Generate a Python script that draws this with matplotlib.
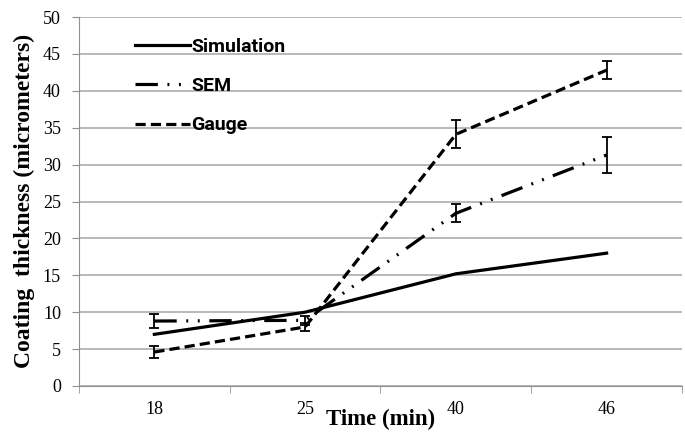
import matplotlib.pyplot as plt
from matplotlib.lines import Line2D

# data
times = ['18', '25', '40', '46']
simulation = [7.0, 10.0, 15.2, 18.0]
sem = [8.8, 8.9, 23.4, 31.3]
sem_err = [0.9, 0.6, 1.2, 2.4]
gauge = [4.6, 8.0, 34.1, 42.8]
gauge_err = [0.8, 0.5, 1.9, 1.2]

plt.rcParams['font.family'] = ['Liberation Serif', 'DejaVu Serif']
legend_font = ['Roboto', 'DejaVu Sans']

sem_style = (0, (7, 3, 0.6, 3, 0.6, 3))
gauge_style = (0, (3.2, 1.6))

fig = plt.figure(figsize=(6.85, 4.32), dpi=100)
ax = fig.add_axes([0.1153, 0.1065, 0.8803, 0.8541])

x = list(range(len(times)))

ax.plot(x, simulation, color='black', lw=2.3)
ax.errorbar(x, sem, yerr=sem_err, color='black', lw=2.3,
            linestyle=sem_style, ecolor='black',
            elinewidth=1.3, capsize=3.5, capthick=1.3)
ax.errorbar(x, gauge, yerr=gauge_err, color='black', lw=2.3,
            linestyle=gauge_style, ecolor='black',
            elinewidth=1.3, capsize=3.5, capthick=1.3)

ax.set_xlim(-0.5, 3.5)
ax.set_ylim(0, 50)
ax.set_yticks(range(0, 51, 5))
ax.set_xticks(x)
ax.set_xticklabels(times)
ax.set_xticks([-0.5, 0.5, 1.5, 2.5, 3.5], minor=True)
ax.tick_params(axis='x', which='major', length=0, pad=11, labelsize=13)
ax.tick_params(axis='x', which='minor', length=5, color='#909090')
ax.tick_params(axis='y', length=5, color='#909090', pad=8, labelsize=13)

ax.grid(axis='y', color='#a6a6a6', lw=1.1)
ax.set_axisbelow(True)
for s in ['top', 'right']:
    ax.spines[s].set_visible(False)
for s in ['left', 'bottom']:
    ax.spines[s].set_color('#909090')

fig.text(0.555, 0.028, 'Time (min)', fontweight='bold',
         fontsize=16.5, ha='center', va='center')
fig.text(0.035, 0.535, 'Coating  thickness (micrometers)',
         fontweight='bold', fontsize=17, rotation=90, ha='center', va='center')

handles = [Line2D([], [], color='black', lw=2.3),
           Line2D([], [], color='black', lw=2.3, linestyle=sem_style),
           Line2D([], [], color='black', lw=2.3, linestyle=gauge_style)]
labels = ['Simulation', 'SEM', 'Gauge']
ax.legend(handles, labels, loc='upper left', bbox_to_anchor=(0.093, 0.944),
          frameon=False, borderpad=0, borderaxespad=0, handlelength=2.8,
          handletextpad=0.1, labelspacing=1.1,
          prop={'family': legend_font, 'weight': 'bold', 'size': 14})

fig.savefig('out.png', dpi=100)
